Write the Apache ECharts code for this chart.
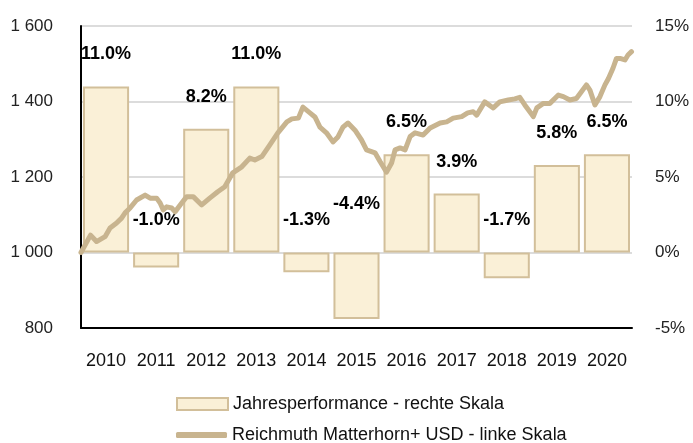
<!DOCTYPE html>
<html>
<head>
<meta charset="utf-8">
<script src="https://cdn.jsdelivr.net/npm/echarts@6/dist/echarts.min.js"></script>
<style>
  html, body { margin: 0; padding: 0; background: #fff; }
  #main { width: 693px; height: 443px; }
</style>
</head>
<body>
<div id="main"></div>
<script>
// Jahre + Jahresperformance (rechte Skala, %)
const years = ['2010', '2011', '2012', '2013', '2014', '2015', '2016', '2017', '2018', '2019', '2020'];
const perf = [11.0, -1.0, 8.2, 11.0, -1.3, -4.4, 6.5, 3.9, -1.7, 5.8, 6.5];

// Reichmuth Matterhorn+ USD (linke Skala), Zeitpunkt als Dezimaljahr
const lineX = [2010.0, 2010.19, 2010.31, 2010.48, 2010.58, 2010.71, 2010.81, 2010.88, 2010.98,
  2011.11, 2011.28, 2011.38, 2011.51, 2011.58, 2011.64, 2011.71, 2011.81, 2011.88, 2011.98,
  2012.11, 2012.24, 2012.41, 2012.57, 2012.73, 2012.87, 2013.03, 2013.21, 2013.37, 2013.47,
  2013.61, 2013.77, 2013.93, 2014.11, 2014.21, 2014.34, 2014.43, 2014.57, 2014.67, 2014.77,
  2014.90, 2015.03, 2015.13, 2015.23, 2015.33, 2015.47, 2015.60, 2015.70, 2015.87, 2015.97,
  2016.10, 2016.20, 2016.27, 2016.37, 2016.47, 2016.57, 2016.67, 2016.83, 2016.97, 2017.17,
  2017.30, 2017.43, 2017.60, 2017.72, 2017.83, 2017.90, 2018.06, 2018.23, 2018.36, 2018.53,
  2018.66, 2018.76, 2018.86, 2018.96, 2019.03, 2019.10, 2019.23, 2019.36, 2019.53, 2019.63,
  2019.76, 2019.89, 2019.99, 2020.09, 2020.16, 2020.26, 2020.36, 2020.46, 2020.53, 2020.62,
  2020.69, 2020.76, 2020.86, 2020.92, 2020.99];
const lineY = [1000, 1046, 1029, 1042, 1065, 1078, 1091, 1105, 1118,
  1139, 1152, 1144, 1144, 1131, 1113, 1121, 1118, 1108, 1126,
  1148, 1148, 1126, 1144, 1161, 1174, 1211, 1227, 1250, 1245,
  1254, 1285, 1317, 1346, 1354, 1356, 1385, 1370, 1359, 1332,
  1317, 1293, 1306, 1332, 1343, 1324, 1298, 1272, 1264, 1241,
  1213, 1237, 1272, 1277, 1272, 1307, 1317, 1311, 1330, 1343,
  1346, 1356, 1360, 1370, 1373, 1364, 1399, 1383, 1399, 1404,
  1407, 1411, 1391, 1373, 1360, 1383, 1395, 1395, 1417, 1413,
  1404, 1408, 1426, 1444, 1430, 1391, 1413, 1444, 1461, 1488,
  1514, 1514, 1510, 1523, 1532];

const barName = 'Jahresperformance - rechte Skala';
const lineName = 'Reichmuth Matterhorn+ USD - linke Skala';

const font = 'Liberation Sans, Arial, sans-serif';
const tan = '#c8b48f';
const barBorder = '#d2bf9a';

const chart = echarts.init(document.getElementById('main'), null, { renderer: 'canvas' });

const legendText = { fontFamily: font, fontSize: 18, color: '#111' };

const option = {
  backgroundColor: '#fff',
  animation: false,
  textStyle: { fontFamily: font },
  grid: { left: 81, right: 61, top: 26, bottom: 115 },
  legend: [
    {
      left: 171, top: 390,
      itemWidth: 51, itemHeight: 12,
      textStyle: legendText,
      data: [{ name: barName, icon: 'rect' }]
    },
    {
      left: 171, top: 421,
      itemWidth: 51, itemHeight: 6,
      textStyle: legendText,
      data: [{ name: lineName, icon: 'roundRect', itemStyle: { color: tan } }]
    }
  ],
  xAxis: [
    {
      type: 'category',
      data: years,
      axisLine: { show: true, onZero: false, lineStyle: { color: '#000', width: 2 } },
      axisTick: { show: false },
      axisLabel: { fontFamily: font, fontSize: 18, color: '#111', margin: 24, interval: 0 },
      splitLine: { show: false }
    },
    {
      type: 'value',
      min: 2010,
      max: 2021,
      show: false
    }
  ],
  yAxis: [
    {
      type: 'value',
      min: 800,
      max: 1600,
      interval: 200,
      position: 'left',
      axisLine: { show: true, lineStyle: { color: '#000', width: 2 } },
      axisTick: { show: false },
      axisLabel: {
        fontFamily: font, fontSize: 17, color: '#222', margin: 28,
        formatter: v => String(v).replace(/\B(?=(\d{3})+(?!\d))/g, ' ')
      },
      splitLine: { show: true, lineStyle: { color: '#dcdcdc', width: 2 } }
    },
    {
      type: 'value',
      min: -5,
      max: 15,
      interval: 5,
      position: 'right',
      axisLine: { show: false },
      axisTick: { show: false },
      axisLabel: { fontFamily: font, fontSize: 17, color: '#222', margin: 23, formatter: '{value}%' },
      splitLine: { show: false }
    }
  ],
  series: [
    {
      name: barName,
      type: 'bar',
      xAxisIndex: 0,
      yAxisIndex: 1,
      barCategoryGap: '8%',
      itemStyle: { color: '#faf0d7', borderColor: barBorder, borderWidth: 2 },
      label: {
        show: true,
        position: 'top',
        distance: 23,
        fontFamily: font,
        fontSize: 18,
        fontWeight: 'bold',
        color: '#000',
        formatter: p => p.value.toFixed(1) + '%'
      },
      // -4.4% sitzt etwas höher
      data: perf.map((v, i) => i === 5 ? { value: v, label: { distance: 39 } } : v),
      z: 2
    },
    {
      name: lineName,
      type: 'line',
      xAxisIndex: 1,
      yAxisIndex: 0,
      showSymbol: false,
      symbol: 'none',
      lineStyle: { color: tan, width: 5, cap: 'round', join: 'round' },
      itemStyle: { color: tan },
      data: lineX.map((x, i) => [x, lineY[i]]),
      z: 3
    }
  ]
};

chart.setOption(option);
</script>
</body>
</html>
